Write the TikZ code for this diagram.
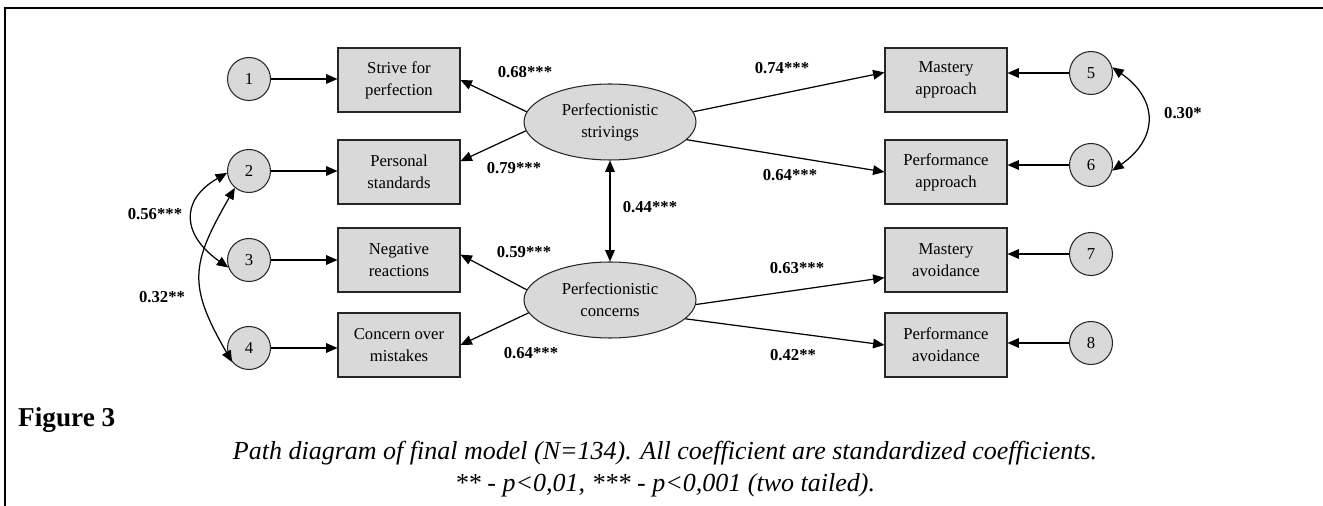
\documentclass[tikz,border=0pt]{standalone}
\usepackage{fontspec}
\setmainfont{Liberation Serif}
\usetikzlibrary{shapes.geometric,arrows.meta}

\tikzset{
  obsbox/.style={draw=black!85, fill=black!15, line width=0.6pt, minimum width=2.44cm, minimum height=1.28cm, inner sep=1pt, align=center, font=\fontsize{9.5}{12.5}\selectfont},
  errcirc/.style={circle, draw=black!85, fill=black!15, line width=0.6pt, minimum size=0.86cm, inner sep=0pt, font=\fontsize{9.5}{11}\selectfont},
  latent/.style={ellipse, draw=black!85, fill=black!15, line width=0.6pt, minimum width=3.44cm, minimum height=1.52cm, inner sep=0pt, align=center, font=\fontsize{9.5}{12.5}\selectfont},
  link/.style={-{Triangle[length=6.5pt,width=5.5pt]}, line width=0.7pt},
  twoway/.style={{Triangle[length=6.5pt,width=5.5pt]}-{Triangle[length=6.5pt,width=5.5pt]}, line width=0.7pt},
  coef/.style={font=\bfseries\fontsize{9.5}{11}\selectfont}
}

\begin{document}
\begin{tikzpicture}[x=0.02cm, y=-0.02cm]
\useasboundingbox (0,0) rectangle (1323,506);

% frame
\draw [line width=1.1pt] (5,506) -- (5,8) -- (1323,8);

% indicators, left
\node (s1) at (399, 80) [obsbox] {Strive for\\perfection};
\node (s2) at (399,172) [obsbox] {Personal\\standards};
\node (s3) at (399,260) [obsbox] {Negative\\reactions};
\node (s4) at (399,345) [obsbox] {Concern over\\mistakes};

\node (e1) at (249, 79) [errcirc] {1};
\node (e2) at (249,171) [errcirc] {2};
\node (e3) at (249,260) [errcirc] {3};
\node (e4) at (249,348) [errcirc] {4};

% latent factors
\node (ps) at (610,122) [latent] {Perfectionistic\\strivings};
\node (pc) at (610,300) [latent] {Perfectionistic\\concerns};

% goals, right
\node (g1) at (946, 80) [obsbox] {Mastery\\approach};
\node (g2) at (946,172) [obsbox] {Performance\\approach};
\node (g3) at (946,260) [obsbox] {Mastery\\avoidance};
\node (g4) at (946,345) [obsbox] {Performance\\avoidance};

\node (e5) at (1091, 73) [errcirc] {5};
\node (e6) at (1091,165) [errcirc] {6};
\node (e7) at (1091,254) [errcirc] {7};
\node (e8) at (1091,343) [errcirc] {8};

% residual paths
\draw [link] (e1) -- (e1 -| s1.west);
\draw [link] (e2) -- (e2 -| s2.west);
\draw [link] (e3) -- (e3 -| s3.west);
\draw [link] (e4) -- (e4 -| s4.west);
\draw [link] (e5) -- (e5 -| g1.east);
\draw [link] (e6) -- (e6 -| g2.east);
\draw [link] (e7) -- (e7 -| g3.east);
\draw [link] (e8) -- (e8 -| g4.east);

% loadings and regressions
\draw [link] (ps.173) -- (s1.east);
\draw [link] (ps.186) -- (s2.10);
\draw [link] (pc.173) -- (s3.5);
\draw [link] (pc.189) -- (s4.east);
\draw [link] (ps.7) -- (g1.173);
\draw [link] (ps.347) -- (g2.west);
\draw [link] (pc.357) -- (g3.196);
\draw [link] (pc.346) -- (g4.west);

% covariances
\draw [twoway] (ps) -- (pc);
\draw [twoway] (e2.185) to[out=210, in=145, looseness=1.5] (e3.200);
\draw [twoway] (e2.230) to[out=240, in=120, looseness=1.3] (e4.220);
\draw [twoway] (e5.15) to[out=-35, in=35, looseness=1.4] (e6.345);

% coefficients
\node (c68) at (525, 72) [coef] {0.68***};
\node (c79) at (514,168) [coef] {0.79***};
\node (c59) at (524,252) [coef] {0.59***};
\node (c64a) at (531,353) [coef] {0.64***};
\node (c74) at (782, 68) [coef] {0.74***};
\node (c64b) at (790,175) [coef] {0.64***};
\node (c63) at (797,268) [coef] {0.63***};
\node (c42) at (793,355) [coef] {0.42**};
\node (c44) at (650,207) [coef] {0.44***};
\node (c30) at (1183,113) [coef] {0.30*};
\node (c56) at (155,214) [coef] {0.56***};
\node (c32) at (162,297) [coef] {0.32**};

% caption
\node (fig) at (12,420) [anchor=west, font=\bfseries\fontsize{15.5}{18}\selectfont] {Figure 3};
\node (cap) at (665,469) [align=center, font=\itshape\fontsize{14.8}{18}\selectfont]
  {Path diagram of final model (N=134). All coefficient are standardized coefficients.\\
   ** - p<0,01, *** - p<0,001 (two tailed).};
\end{tikzpicture}
\end{document}
